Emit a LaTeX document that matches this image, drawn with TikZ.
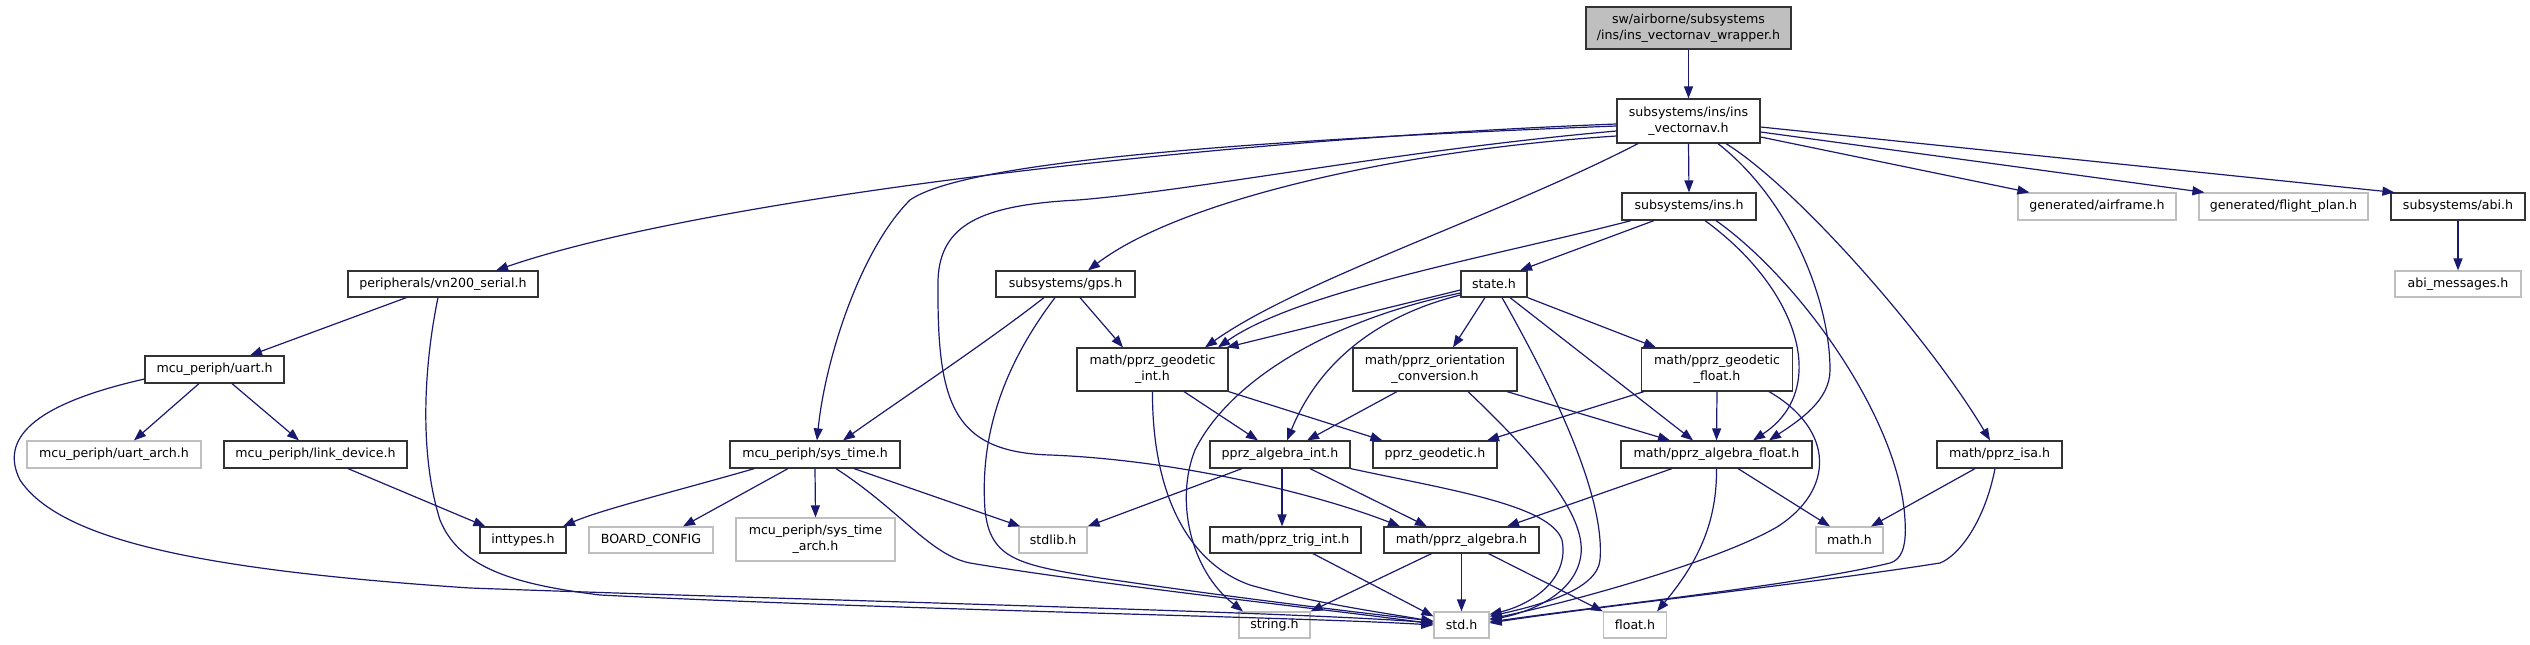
\documentclass[tikz,border=0pt]{standalone}
\usepackage{fontspec}
\setmainfont{DejaVu Sans}
\usetikzlibrary{arrows.meta,calc}
\definecolor{edgec}{HTML}{191970}
\definecolor{grayb}{HTML}{BFBFBF}
\definecolor{boxb}{HTML}{333333}
\begin{document}
\begin{tikzpicture}[x=1pt,y=-1pt,
  every node/.style={font=\fontsize{12.6}{16}\selectfont, inner sep=0pt, align=center},
  box/.style={draw=boxb, line width=1.2pt, fill=white, minimum height=27pt},
  gbox/.style={draw=grayb, line width=1.2pt, fill=white, minimum height=27pt},
  edge/.style={draw=edgec, line width=1.2pt, -{Triangle[length=12pt,width=9pt]}}]
\useasboundingbox (0,0) rectangle (2530,645);
% rank 0-2
\node[box, fill=grayb, minimum width=205pt, minimum height=42pt] (wr) at (1688.5,28) {sw/airborne/subsystems\\/ins/ins\_vectornav\_wrapper.h};
\node[box, minimum width=143pt, minimum height=44pt] (vn) at (1688.5,121) {subsystems/ins/ins\\\_vectornav.h};
\node[box, minimum width=134pt] (ins) at (1689,206.5) {subsystems/ins.h};
\node[gbox, minimum width=158pt] (air) at (2097,206.5) {generated/airframe.h};
\node[gbox, minimum width=169pt] (fp) at (2283.5,206.5) {generated/flight\_plan.h};
\node[box, minimum width=134pt] (abi) at (2458,206.5) {subsystems/abi.h};
% rank 3
\node[gbox, minimum width=126pt, minimum height=26pt] (abim) at (2458,284) {abi\_messages.h};
\node[box, minimum width=190pt, minimum height=26pt] (vn200) at (443,284) {peripherals/vn200\_serial.h};
\node[box, minimum width=139pt, minimum height=26pt] (gps) at (1065.5,284) {subsystems/gps.h};
\node[box, minimum width=66pt, minimum height=26pt] (state) at (1494,284) {state.h};
% rank 4
\node[box, minimum width=139pt] (uart) at (214.5,369.5) {mcu\_periph/uart.h};
\node[box, minimum width=151pt, minimum height=43pt] (gint) at (1152.5,369.5) {math/pprz\_geodetic\\\_int.h};
\node[box, minimum width=164pt, minimum height=43pt] (orient) at (1435,369.5) {math/pprz\_orientation\\\_conversion.h};
\node[box, minimum width=151pt, minimum height=43pt] (gfloat) at (1717,369.5) {math/pprz\_geodetic\\\_float.h};
% rank 5
\node[gbox, minimum width=174pt] (uarch) at (114,454.5) {mcu\_periph/uart\_arch.h};
\node[box, minimum width=183pt] (link) at (315.5,454.5) {mcu\_periph/link\_device.h};
\node[box, minimum width=170pt] (systime) at (815,454.5) {mcu\_periph/sys\_time.h};
\node[box, minimum width=140pt] (aint) at (1280,454.5) {pprz\_algebra\_int.h};
\node[box, minimum width=124pt] (geo) at (1435,454.5) {pprz\_geodetic.h};
\node[box, minimum width=191pt] (afloat) at (1716.5,454.5) {math/pprz\_algebra\_float.h};
\node[box, minimum width=125pt] (isa) at (1999.5,454.5) {math/pprz\_isa.h};
% rank 6
\node[box, minimum width=86pt, minimum height=26pt] (intt) at (523,540) {inttypes.h};
\node[gbox, minimum width=124pt, minimum height=26pt] (board) at (651,540) {BOARD\_CONFIG};
\node[gbox, minimum width=159pt, minimum height=43pt] (starch) at (815.5,539.5) {mcu\_periph/sys\_time\\\_arch.h};
\node[gbox, minimum width=68pt, minimum height=26pt] (stdlib) at (1053,540) {stdlib.h};
\node[box, minimum width=151pt, minimum height=26pt] (trig) at (1285.5,540) {math/pprz\_trig\_int.h};
\node[box, minimum width=155pt, minimum height=26pt] (alg) at (1461.5,540) {math/pprz\_algebra.h};
\node[gbox, minimum width=67pt, minimum height=26pt] (math) at (1849.5,540) {math.h};
% rank 7
\node[gbox, minimum width=71pt, minimum height=26pt] (string) at (1274.5,625) {string.h};
\node[gbox, minimum width=55pt, minimum height=26pt] (std) at (1461.5,625) {std.h};
\node[gbox, minimum width=63pt, minimum height=26pt] (float) at (1635,625) {float.h};

% edges from wrapper and vectornav
\draw[edge] (wr.south) -- (vn.north);
\draw[edge] ($(vn.west)+(0,3)$) .. controls (1200,140) and (700,200) .. ($(vn200.north)+(53,0)$);
\draw[edge] ($(vn.west)+(0,5)$) .. controls (1200,142) and (960,165) .. (910,200) .. controls (860,250) and (825,360) .. ($(systime.north)+(2,0)$);
\draw[edge] ($(vn.west)+(0,10)$) .. controls (1400,150) and (1200,190) .. (1078,200) .. controls (980,205) and (940,225) .. (938,280) .. controls (937,400) and (950,452) .. (1050,455) .. controls (1180,460) and (1320,495) .. ($(alg.north)+(-61.5,0)$);
\draw[edge] ($(vn.west)+(0,15)$) .. controls (1400,150) and (1180,200) .. ($(gps.north)+(22.5,0)$);
\draw[edge] ($(vn.south)+(-50.5,0)$) .. controls (1500,215) and (1300,280) .. ($(gint.north)+(52.5,0)$);
\draw[edge] (vn.south) -- (ins.north);
\draw[edge] ($(vn.south)+(29.5,0)$) .. controls (1790,200) and (1830,300) .. (1830,370) .. controls (1830,400) and (1800,420) .. ($(afloat.north)+(52.5,0)$);
\draw[edge] ($(vn.south)+(37.5,0)$) .. controls (1800,190) and (1930,340) .. ($(isa.north)+(-9.5,0)$);
\draw[edge] ($(vn.east)+(0,16)$) -- ($(air.north west)+(12,0)$);
\draw[edge] ($(vn.east)+(0,11)$) -- ($(fp.north west)+(6,0)$);
\draw[edge] ($(vn.east)+(0,6)$) -- ($(abi.north west)+(4,0)$);
\draw[edge] (abi.south) -- (abim.north);

% ins.h
\draw[edge] ($(ins.south)+(-35,0)$) -- ($(state.north)+(26,0)$);
\draw[edge] ($(ins.south)+(-58,0)$) .. controls (1500,255) and (1300,290) .. ($(gint.north)+(65.5,0)$);
\draw[edge] ($(ins.south)+(16,0)$) .. controls (1800,290) and (1830,390) .. ($(afloat.north)+(36.5,0)$);
\draw[edge] ($(ins.south)+(27,0)$) .. controls (1800,280) and (1900,420) .. (1905,520) .. controls (1907,550) and (1900,560) .. (1890,563) .. controls (1800,585) and (1600,606) .. ($(std.east)+(0,-3)$);

% state.h
\draw[edge] ($(state.west)+(0,6)$) -- ($(gint.north east)+(-2,0)$);
\draw[edge] ($(state.west)+(0,9)$) .. controls (1330,320) and (1230,380) .. (1195,450) .. controls (1175,500) and (1190,570) .. ($(string.north)+(-31.5,0)$);
\draw[edge] ($(state.west)+(0,11)$) .. controls (1380,315) and (1320,360) .. ($(aint.north)+(7,0)$);
\draw[edge] ($(state.south)+(-9,0)$) -- ($(orient.north)+(18,0)$);
\draw[edge] (state.south east) -- ($(gfloat.north west)+(15,0)$);
\draw[edge] ($(state.south)+(16,0)$) -- ($(afloat.north)+(-23.5,0)$);
\draw[edge] ($(state.south)+(8,0)$) .. controls (1560,400) and (1605,500) .. (1600,560) .. controls (1597,590) and (1540,605) .. ($(std.north east)+(0,5)$);

% orientation conversion
\draw[edge] ($(orient.south)+(-38,0)$) -- ($(aint.north)+(27,0)$);
\draw[edge] ($(orient.south)+(72,0)$) -- ($(afloat.north)+(-46.5,0)$);
\draw[edge] ($(orient.south)+(33,0)$) .. controls (1540,460) and (1590,520) .. (1580,560) .. controls (1572,595) and (1530,612) .. ($(std.east)+(0,-5)$);

% geodetic float
\draw[edge] ($(gfloat.south west)+(3,0)$) -- ($(geo.north)+(52,0)$);
\draw[edge] (gfloat.south) -- (afloat.north);
\draw[edge] ($(gfloat.south)+(52,0)$) .. controls (1835,430) and (1835,490) .. (1777,527) .. controls (1720,560) and (1580,600) .. ($(std.east)+(0,-6)$);

% algebra int
\draw[edge] ($(aint.south)+(-38,0)$) -- (stdlib.north east);
\draw[edge] ($(aint.south)+(2,0)$) -- ($(trig.north)+(-3.5,0)$);
\draw[edge] ($(aint.south)+(30,0)$) -- ($(alg.north)+(-34.5,0)$);
\draw[edge] (aint.south east) .. controls (1450,490) and (1550,505) .. (1562,540) .. controls (1570,580) and (1530,605) .. ($(std.north east)+(0,3)$);

% trig, algebra
\draw[edge] ($(trig.south)+(27.5,0)$) -- ($(std.north west)+(0,5)$);
\draw[edge] (alg.south) -- (std.north);
\draw[edge] ($(alg.south)+(-30,0)$) -- (string.north east);
\draw[edge] ($(alg.south)+(27,0)$) -- (float.north west);

% algebra float
\draw[edge] ($(afloat.south)+(-44.5,0)$) -- ($(alg.north)+(45.5,0)$);
\draw[edge] ($(afloat.south)+(21.5,0)$) -- ($(math.north)+(-19.5,0)$);
\draw[edge] (afloat.south) .. controls (1717,520) and (1700,560) .. ($(float.north)+(22,0)$);

% isa
\draw[edge] ($(isa.south)+(-24.5,0)$) -- ($(math.north)+(21.5,0)$);
\draw[edge] ($(isa.south)+(-4.5,0)$) .. controls (1985,520) and (1960,555) .. (1940,563) .. controls (1800,585) and (1600,606) .. ($(std.east)+(0,-2)$);

% gps
\draw[edge] ($(gps.south)+(14.5,0)$) -- ($(gint.north)+(-29.5,0)$);
\draw[edge] ($(gps.south)+(-21.5,0)$) .. controls (990,340) and (900,400) .. ($(systime.north)+(28,0)$);
\draw[edge] ($(gps.south)+(-10.5,0)$) .. controls (1000,370) and (980,440) .. (985,510) .. controls (990,560) and (1020,565) .. (1100,578) .. controls (1250,600) and (1380,615) .. ($(std.west)+(0,-4)$);

% geodetic int
\draw[edge] ($(gint.south)+(31.5,0)$) -- ($(aint.north)+(-22,0)$);
\draw[edge] (gint.south east) -- ($(geo.north west)+(10,0)$);
\draw[edge] (gint.south) .. controls (1152,480) and (1180,560) .. (1250,585) .. controls (1320,605) and (1400,615) .. ($(std.west)+(0,-3)$);

% sys_time
\draw[edge] ($(systime.south west)+(25,0)$) .. controls (680,490) and (600,510) .. ($(intt.north)+(40,0)$);
\draw[edge] ($(systime.south)+(-27,0)$) -- ($(board.north)+(32,0)$);
\draw[edge] (systime.south) -- (starch.north);
\draw[edge] ($(systime.south)+(39,0)$) -- ($(stdlib.north west)+(2,0)$);
\draw[edge] ($(systime.south)+(21,0)$) .. controls (900,510) and (930,555) .. (970,563) .. controls (1100,585) and (1350,612) .. ($(std.west)+(0,-1)$);

% uart / link / vn200
\draw[edge] ($(link.south)+(32.5,0)$) -- ($(intt.north west)+(6,0)$);
\draw[edge] ($(uart.south)+(-15.5,0)$) -- ($(uarch.north)+(20,0)$);
\draw[edge] ($(uart.south)+(17.5,0)$) -- ($(link.north)+(-16.5,0)$);
\draw[edge] ($(uart.west)+(0,9.5)$) .. controls (30,405) and (0,440) .. (20,480) .. controls (60,540) and (200,570) .. (470,588) .. controls (800,600) and (1300,612) .. ($(std.west)+(0,-2)$);
\draw[edge] ($(vn200.south west)+(59,0)$) -- ($(uart.north)+(35.5,0)$);
\draw[edge] ($(vn200.south)+(-5,0)$) .. controls (425,360) and (418,450) .. (440,520) .. controls (460,570) and (520,585) .. (600,595) .. controls (900,610) and (1300,617) .. (std.west);
\end{tikzpicture}
\end{document}
